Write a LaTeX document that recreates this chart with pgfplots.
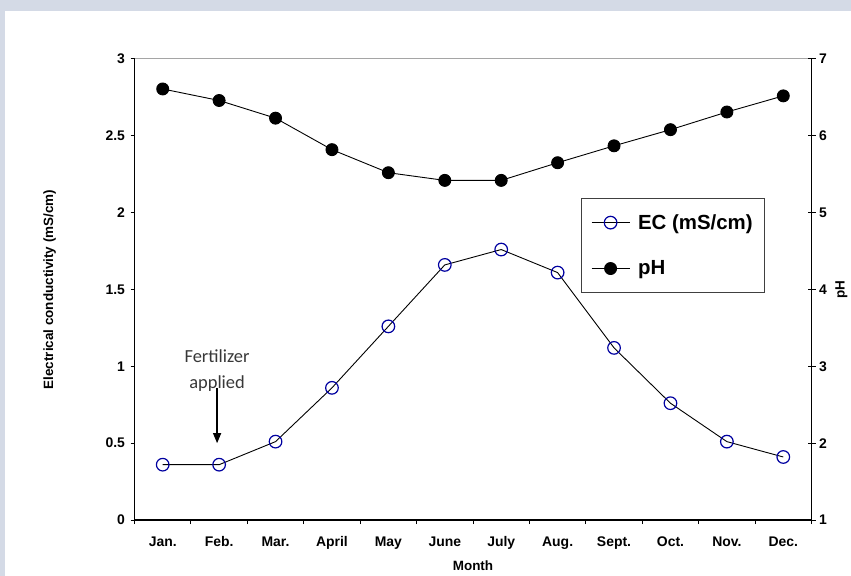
\documentclass[border=0pt]{standalone}
\usepackage{fontspec}
\setmainfont{Liberation Sans}
\newfontfamily\calibri{Carlito}
\usepackage{pgfplots}
\pgfplotsset{compat=1.18}
\usetikzlibrary{arrows.meta}
\definecolor{bgframe}{RGB}{212,218,230}
\definecolor{ecblue}{RGB}{0,0,160}
\definecolor{frame}{RGB}{165,165,165}

\pgfplotsset{
  common/.style={
    at={(134.5bp,56bp)}, anchor=south west,
    scale only axis, width=677bp, height=461bp,
    xmin=-0.5, xmax=11.5,
    axis line style={line width=1.1bp},
    tick style={black, line width=1bp},
    tick label style={font=\fontsize{14}{16}\selectfont\bfseries},
    /pgf/number format/assume math mode=true,
    label style={font=\fontsize{13.5}{16}\selectfont\bfseries},
  },
  legend image code/.code={
    \draw[#1, mark repeat=2, mark phase=2] plot coordinates {(0bp,0bp) (19bp,0bp) (38bp,0bp)};
  },
}

\begin{document}
\begin{tikzpicture}
\useasboundingbox (0,0) rectangle (851bp,576bp);
\fill[bgframe] (0,0) rectangle (851bp,576bp);
\fill[white] (5bp,0) rectangle (851bp,565bp);

% EC on the left axis
\begin{axis}[
  common,
  ymin=0, ymax=3,
  axis x line*=bottom, axis y line*=left,
  tick align=outside,
  xtick={0,...,11},
  xticklabels={Jan., Feb., Mar., April, May, June, July, Aug., Sept., Oct., Nov., Dec.},
  major x tick style={draw=none},
  minor xtick={-0.5,0.5,...,11.5},
  minor tick length=4bp,
  ytick={0,0.5,1,1.5,2,2.5,3},
  major tick length=4bp,
  xticklabel style={yshift=-9bp},
  yticklabel style={xshift=-2bp},
  xlabel={Month},
  xlabel style={at={(rel axis cs:0.5,0)}, anchor=center, yshift=-46bp},
  ylabel={Electrical conductivity (mS/cm)},
  ylabel style={at={(rel axis cs:-0.1254,0.5)}, anchor=center},
]
\draw[frame, line width=1bp] (rel axis cs:0,1) -- (rel axis cs:1,1);
\addplot[black, line width=0.9bp, mark=o, mark size=6.3bp,
  mark options={draw=ecblue, line width=1.2bp, fill=white}]
  coordinates {
    (0,0.36) (1,0.36) (2,0.51) (3,0.86) (4,1.26) (5,1.66)
    (6,1.76) (7,1.61) (8,1.12) (9,0.76) (10,0.51) (11,0.41)
  };
\draw[black, line width=1.2bp, -{Triangle[length=10bp,width=8bp]}]
  (axis cs:0.964,0.86) -- (axis cs:0.964,0.50);
\node[font=\calibri\fontsize{18.5}{26}\selectfont, text=black!78, align=center]
  at (axis cs:0.964,0.975) {Fertilizer\\applied};
\end{axis}

% pH on the right axis
\begin{axis}[
  common,
  ymin=1, ymax=7,
  axis x line=none, axis y line*=right,
  ytick={1,...,7},
  tick align=center, major tick length=8bp,
  ylabel={pH},
  ylabel style={at={(rel axis cs:1.0442,0.5)}, anchor=center},
  legend cell align=left,
  legend style={at={(rel axis cs:0.659,0.6985)}, anchor=north west,
    draw=black!75, line width=1bp,
    font=\fontsize{20.5}{24}\selectfont\bfseries,
    inner xsep=10bp, inner ysep=14bp, row sep=26bp,
    /tikz/every odd column/.append style={column sep=6bp}},
]
\addlegendimage{black, line width=0.9bp, mark=o, mark size=6.3bp,
  mark options={draw=ecblue, line width=1.2bp, fill=white}}
\addlegendentry{EC (mS/cm)}
\addplot[black, line width=0.9bp, mark=*, mark size=6bp, mark options={fill=black}]
  coordinates {
    (0,6.61) (1,6.46) (2,6.23) (3,5.82) (4,5.52) (5,5.42)
    (6,5.42) (7,5.65) (8,5.87) (9,6.08) (10,6.31) (11,6.52)
  };
\addlegendentry{pH}
\end{axis}
\end{tikzpicture}
\end{document}
